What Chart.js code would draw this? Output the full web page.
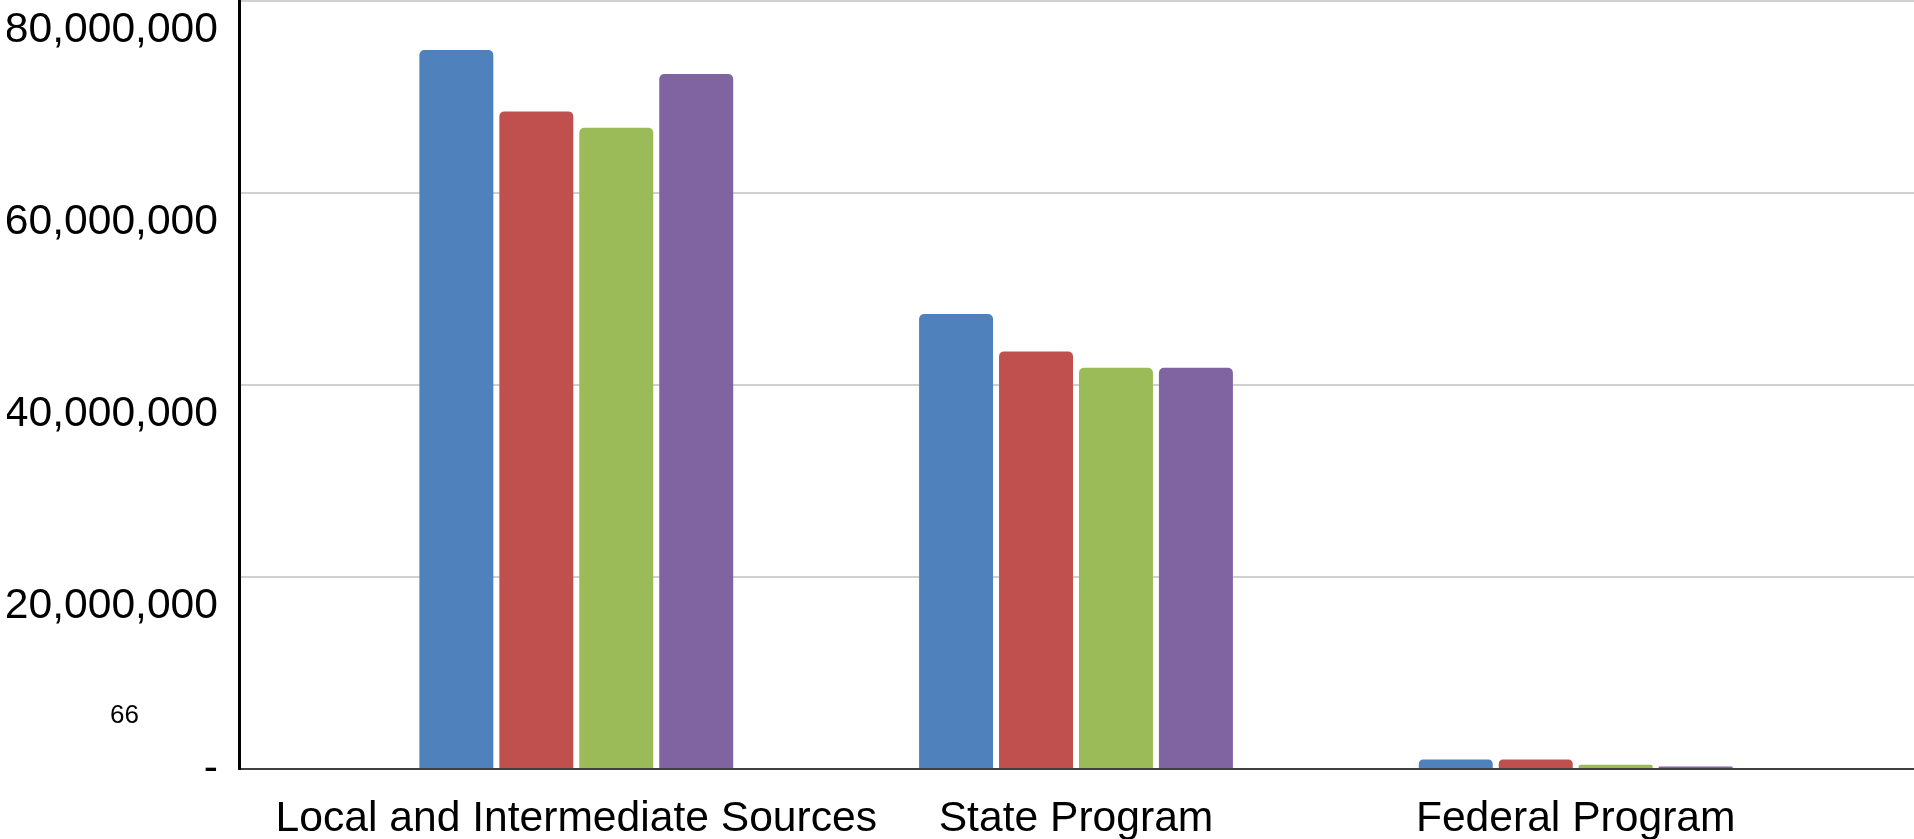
<!DOCTYPE html>
<html>
<head>
<meta charset="utf-8">
<title>Revenue by Source</title>
<script src="https://cdn.jsdelivr.net/npm/chart.js@4/dist/chart.umd.min.js"></script>
<style>
  html, body { margin: 0; padding: 0; background: #ffffff; }
  #wrap { width: 1914px; height: 839px; position: relative; }
</style>
</head>
<body>
<div id="wrap"><canvas id="chart"></canvas></div>
<script>
// Revenue sources, four series per source
const categories = ['Local and Intermediate Sources', 'State Program', 'Federal Program'];
const seriesNames = ['Series 1', 'Series 2', 'Series 3', 'Series 4'];
const series1 = [74900000, 47400000, 1000000];
const series2 = [68500000, 43500000, 980000];
const series3 = [66800000, 41800000, 450000];
const series4 = [72400000, 41800000, 250000];
const seriesColors = ['#4F81BD', '#C0504D', '#9BBB59', '#8064A2'];
const yTicks = [0, 20000000, 40000000, 60000000, 80000000];
const noteText = '66';

const FONT = '"Liberation Sans", Arial, Helvetica, sans-serif';
const allSeries = [series1, series2, series3, series4];

const datasets = allSeries.map((vals, s) => ({
  label: seriesNames[s],
  data: vals.map((v, i) => ({ x: i, y: v })),
  backgroundColor: seriesColors[s],
  borderWidth: 0,
  borderRadius: 5,
  categoryPercentage: 0.64,
  barPercentage: 0.925
}));

// small free-standing note left of the axis
const notePlugin = {
  id: 'note',
  afterDraw(chart) {
    const { ctx, chartArea } = chart;
    ctx.save();
    ctx.font = '26px ' + FONT;
    ctx.fillStyle = '#000000';
    ctx.textAlign = 'left';
    ctx.textBaseline = 'alphabetic';
    ctx.fillText(noteText, chartArea.left - 129, chartArea.bottom - 46);
    ctx.restore();
  }
};

new Chart(document.getElementById('chart'), {
  type: 'bar',
  data: { datasets },
  options: {
    responsive: true,
    maintainAspectRatio: false,
    animation: false,
    layout: { padding: { top: 1, left: 7, right: 0, bottom: 0 } },
    plugins: { legend: { display: false }, tooltip: { enabled: false } },
    scales: {
      x: {
        type: 'linear',
        offset: false,
        min: -0.675,
        max: 2.677,
        afterBuildTicks: s => { s.ticks = categories.map((_, i) => ({ value: i })); },
        afterFit: s => { s.paddingLeft = 0; s.paddingRight = 0; s.height = 70; },
        ticks: {
          callback: v => categories[v] ?? '',
          font: { family: FONT, size: 42.6 },
          color: '#000000',
          padding: 25,
          maxRotation: 0,
          autoSkip: false
        },
        grid: { display: true, drawOnChartArea: false, drawTicks: false },
        border: { display: true, color: '#404040', width: 2 }
      },
      y: {
        min: 0,
        max: 80000000,
        afterBuildTicks: s => { s.ticks = yTicks.map(v => ({ value: v })); },
        afterFit: s => { s.paddingTop = 0; s.paddingBottom = 0; s.width = 232; },
        ticks: {
          callback: v => v === 0 ? '-' : ['', v.toLocaleString('en-US')],
          font: { family: FONT, size: 42.6, lineHeight: '58px' },
          color: '#000000',
          padding: 21
        },
        grid: { color: '#d0d0d0', lineWidth: 2, drawTicks: false },
        border: { display: true, color: '#000000', width: 3 }
      }
    }
  },
  plugins: [notePlugin]
});
</script>
</body>
</html>
